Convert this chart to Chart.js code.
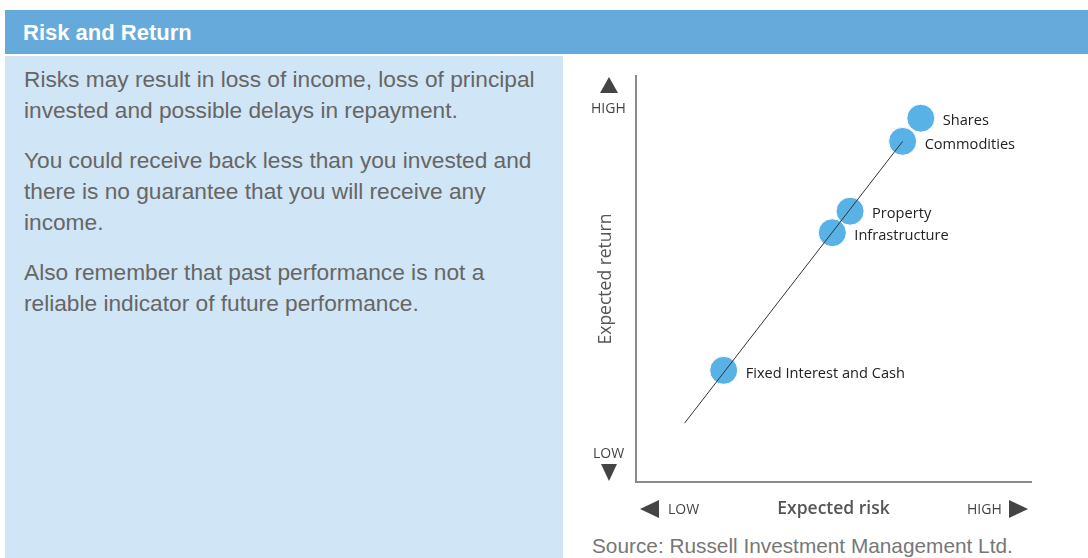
<!DOCTYPE html>
<html>
<head>
<meta charset="utf-8">
<script src="https://cdn.jsdelivr.net/npm/chart.js@4.4.1/dist/chart.umd.min.js"></script>
<style>
  body { margin: 0; width: 1088px; height: 558px; background: #fff; position: relative; overflow: hidden; font-family: "Liberation Sans", Arial, sans-serif; }
  .header { position: absolute; left: 5px; top: 10px; width: 1083px; height: 44px; background: #66aadc; }
  .header h1 { margin: 0; padding-left: 18px; line-height: 45px; font-size: 22px; font-weight: bold; color: #fff; }
  .panel { position: absolute; left: 5px; top: 56px; width: 558px; height: 502px; background: #d0e5f5; }
  .panel p { margin: 0 0 19px 19px; font-size: 22.7px; line-height: 31px; color: #666; }
  .panel p:first-child { margin-top: 8px; }
  .txt { position: absolute; font-family: "Open Sans", sans-serif; font-size: 14px; color: #444; white-space: nowrap; }
  .tri { position: absolute; width: 0; height: 0; }
  #wrap { position: absolute; left: 570px; top: 60px; width: 518px; height: 470px; }
  .source { position: absolute; left: 592px; top: 534px; font-size: 20.8px; color: #777; white-space: nowrap; }
</style>
</head>
<body>
<div class="header"><h1>Risk and Return</h1></div>
<div class="panel">
  <p>Risks may result in loss of income, loss of principal invested and possible delays in repayment.</p>
  <p>You could receive back less than you invested and there is no guarantee that you will receive any income.</p>
  <p>Also remember that past performance is not a reliable indicator of future performance.</p>
</div>

<div id="wrap"><canvas id="c"></canvas></div>

<!-- axis end markers -->
<div class="tri" style="left:600px;top:77px;border-left:9.5px solid transparent;border-right:9.5px solid transparent;border-bottom:16px solid #444;"></div>
<div class="txt" style="left:591px;top:98px;">HIGH</div>
<div class="txt" style="left:593px;top:443px;">LOW</div>
<div class="tri" style="left:601px;top:464px;border-left:8.5px solid transparent;border-right:8.5px solid transparent;border-top:17px solid #444;"></div>
<div class="tri" style="left:640px;top:500px;border-top:9px solid transparent;border-bottom:9px solid transparent;border-right:19px solid #444;"></div>
<div class="txt" style="left:668px;top:499px;">LOW</div>
<div class="txt" style="left:967px;top:499px;">HIGH</div>
<div class="tri" style="left:1009px;top:500px;border-top:9px solid transparent;border-bottom:9px solid transparent;border-left:19px solid #444;"></div>

<div class="source">Source: Russell Investment Management Ltd.</div>

<script>
// asset classes, risk (x) and return (y) on a 0-100 scale
const assets = ['Fixed Interest and Cash', 'Infrastructure', 'Property', 'Commodities', 'Shares'];
const riskValues = [22.2, 49.7, 54.2, 67.5, 72.1];
const returnValues = [27.5, 61.4, 66.7, 83.9, 89.6];
// straight trend line behind the circles
const trendRisk = [12.3, 67.5];
const trendReturn = [14.5, 83.9];

const pointLabels = {
    id: 'pointLabels',
    afterDatasetsDraw(chart) {
        const ctx = chart.ctx;
        const meta = chart.getDatasetMeta(1);
        ctx.save();
        ctx.font = '14.6px "Open Sans", sans-serif';
        ctx.fillStyle = '#222';
        ctx.textBaseline = 'middle';
        meta.data.forEach((pt, i) => {
            ctx.fillText(assets[i], pt.x + 22, pt.y + 3);
        });
        ctx.restore();
    }
};

new Chart(document.getElementById('c'), {
    type: 'scatter',
    data: {
        datasets: [{
            type: 'line',
            data: trendRisk.map((x, i) => ({x: x, y: trendReturn[i]})),
            borderColor: '#333',
            borderWidth: 1,
            pointRadius: 0
        }, {
            data: riskValues.map((x, i) => ({x: x, y: returnValues[i]})),
            backgroundColor: '#58b2e6',
            borderColor: '#ffffff',
            borderWidth: 1,
            pointRadius: 14,
            pointHoverRadius: 14
        }]
    },
    options: {
        responsive: true,
        maintainAspectRatio: false,
        animation: false,
        layout: { padding: { top: 16, right: 57, left: 0, bottom: 0 } },
        plugins: { legend: { display: false }, tooltip: { enabled: false } },
        scales: {
            x: {
                min: 0, max: 100,
                ticks: { display: false },
                grid: { display: false, drawTicks: false },
                border: { display: true, color: '#8a8a8a', width: 2 },
                title: { display: true, text: 'Expected risk', color: '#555', padding: { bottom: 10 },
                         font: { family: '"Open Sans", sans-serif', size: 17.5, weight: '600' } },
                afterFit(scale) { scale.height = 48; }
            },
            y: {
                min: 0, max: 100,
                ticks: { display: false },
                grid: { display: false, drawTicks: false },
                border: { display: true, color: '#8a8a8a', width: 2 },
                title: { display: true, text: 'Expected return', color: '#555', padding: { top: 26 },
                         font: { family: '"Open Sans", sans-serif', size: 17.5 } },
                afterFit(scale) { scale.width = 66; }
            }
        }
    },
    plugins: [pointLabels]
});
</script>
</body>
</html>
